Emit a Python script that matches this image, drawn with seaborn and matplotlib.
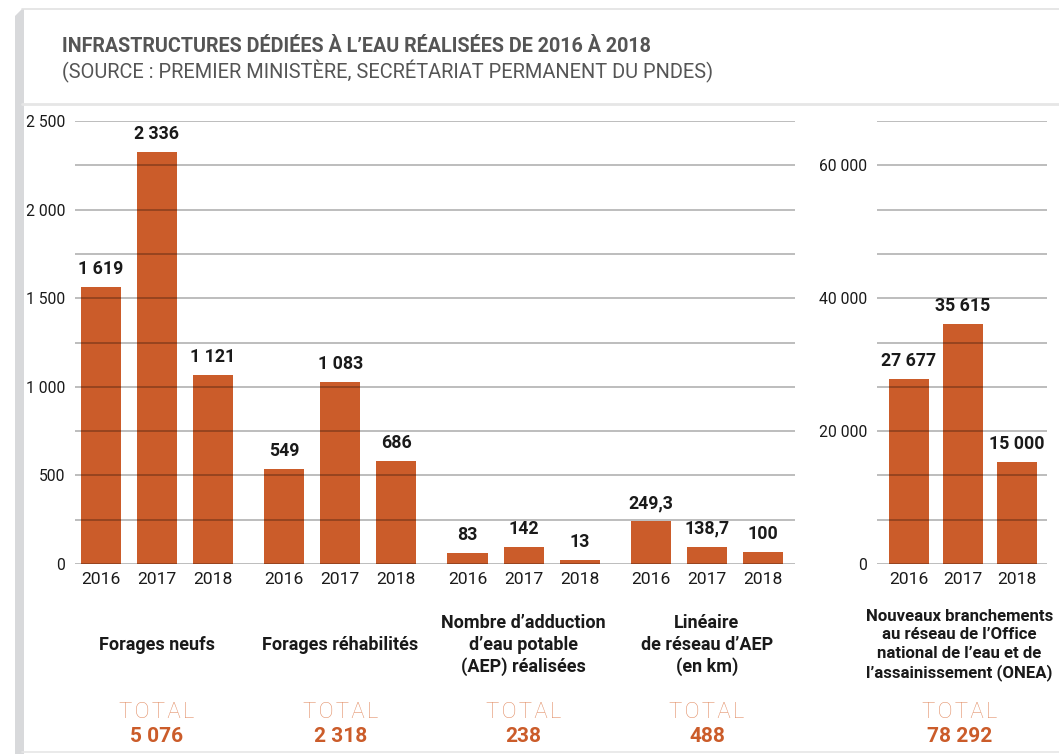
import numpy as np
import pandas as pd
import seaborn as sns
import matplotlib.pyplot as plt
from matplotlib.patches import Polygon
from matplotlib.lines import Line2D
from matplotlib.ticker import FixedLocator
import matplotlib.transforms as mtransforms

# =====================================================================
# 1. DONNÉES
# =====================================================================
annees = ['2016', '2017', '2018']

groupes = [
    'Forages neufs',
    'Forages réhabilités',
    'Nombre d’adduction\nd’eau potable\n(AEP) réalisées',
    'Linéaire\nde réseau d’AEP\n(en km)',
]

# valeurs affichées au-dessus des barres
etiquettes_forages_neufs = ['1 619', '2 336', '1 121']
etiquettes_forages_rehab = ['549', '1 083', '686']
etiquettes_aep = ['83', '142', '13']
etiquettes_lineaire = ['249,3', '138,7', '100']

# hauteurs des barres telles que dessinées dans la figure
hauteurs_forages_neufs = [1563, 2323, 1067]
hauteurs_forages_rehab = [536, 1029, 580]
hauteurs_aep = [64, 98, 23]
hauteurs_lineaire = [241, 98, 70]

totaux = ['5 076', '2 318', '238', '488']

groupe_onea = 'Nouveaux branchements\nau réseau de l’Office\nnational de l’eau et de\nl’assainissement (ONEA)'
etiquettes_onea = ['27 677', '35 615', '15 000']
hauteurs_onea = [27840, 36120, 15400]
total_onea = '78 292'

titre = 'INFRASTRUCTURES DÉDIÉES À L’EAU RÉALISÉES DE 2016 À 2018'
sous_titre = '(SOURCE : PREMIER MINISTÈRE, SECRÉTARIAT PERMANENT DU PNDES)'
mot_total = '\u200a'.join('TOTAL')  # lettres espacées

# =====================================================================
# 2. STYLE
# =====================================================================
sns.set_theme(style="white")
plt.rcParams['font.family'] = ['Roboto', 'DejaVu Sans']

orange = '#CB5C2A'
orange_clair = '#E3916A'
texte = '#1A1A1A'
gris_titre = '#555555'

W, H = 1059, 754
fig = plt.figure(figsize=(W / 100, H / 100), dpi=100)
fig.patch.set_facecolor('white')


def px_rect(x0, y0, x1, y1):
    # rectangle en pixels (origine en haut à gauche) -> fraction de figure
    return [x0 / W, 1 - y1 / H, (x1 - x0) / W, (y1 - y0) / H]


ax = fig.add_axes(px_rect(75, 121, 795, 564))
ax2 = fig.add_axes(px_rect(877, 121, 1047, 564))

# =====================================================================
# 3. BARRES
# =====================================================================
hauteurs = [hauteurs_forages_neufs, hauteurs_forages_rehab, hauteurs_aep, hauteurs_lineaire]
etiquettes = [etiquettes_forages_neufs, etiquettes_forages_rehab, etiquettes_aep, etiquettes_lineaire]

df = pd.DataFrame({
    'groupe': [g for g in groupes for _ in annees],
    'annee': annees * len(groupes),
    'hauteur': [v for h in hauteurs for v in h],
})
sns.barplot(data=df, x='groupe', y='hauteur', hue='annee', hue_order=annees,
            palette=[orange] * 3, saturation=1, width=0.918, gap=0.285,
            legend=False, ax=ax, linewidth=0)

df2 = pd.DataFrame({
    'groupe': [groupe_onea] * 3,
    'annee': annees,
    'hauteur': hauteurs_onea,
})
sns.barplot(data=df2, x='groupe', y='hauteur', hue='annee', hue_order=annees,
            palette=[orange] * 3, saturation=1, width=0.9, gap=0.25,
            legend=False, ax=ax2, linewidth=0)


def habiller(axe, labels, ymax, pas_label, pas_grille, xlim):
    axe.set_ylim(0, ymax)
    axe.set_xlim(*xlim)
    axe.yaxis.set_major_locator(FixedLocator(np.arange(0, ymax + 1, pas_label)))
    axe.yaxis.set_minor_locator(FixedLocator(np.arange(0, ymax + 1, pas_grille)))
    axe.set_yticklabels([f"{int(v):,}".replace(',', ' ') for v in axe.get_yticks()])
    axe.grid(True, axis='y', which='both', color='black', alpha=0.33, linewidth=1.1)
    axe.set_axisbelow(False)
    for s in axe.spines.values():
        s.set_visible(False)
    axe.tick_params(axis='y', which='both', length=0, pad=7, labelsize=11.3, labelcolor=texte)
    axe.set_xlabel('')
    axe.set_ylabel('')

    # barres : valeur au-dessus, année en dessous
    centres, ans = [], []
    for j, (conteneur, an) in enumerate(zip(axe.containers, annees)):
        for i, barre in enumerate(conteneur):
            cx = barre.get_x() + barre.get_width() / 2
            centres.append(cx)
            ans.append(an)
            axe.annotate(labels[i][j], (cx, barre.get_height()), xytext=(0, 9),
                         textcoords='offset pixels', ha='center', va='bottom',
                         fontsize=12.8, fontweight='bold', color=texte)
    axe.set_xticks(centres)
    axe.set_xticklabels(ans)
    axe.tick_params(axis='x', length=0, pad=6, labelsize=12.6, labelcolor=texte)


habiller(ax, etiquettes, 2500, 500, 250, (-0.447, 3.48))
habiller(ax2, [etiquettes_onea], 66667, 20000, 20000 / 3, (-0.478, 0.467))


def pied(axe, x, libelle, total, taille=13):
    tr = mtransforms.blended_transform_factory(axe.transData, fig.transFigure)
    axe.text(x, 1 - 645 / H, libelle, transform=tr, ha='center', va='center',
             fontsize=taille, fontweight='bold', color=texte, linespacing=1.28)
    axe.text(x, 1 - 712 / H, mot_total, transform=tr, ha='center', va='center',
             fontsize=16, fontweight='light', color=orange_clair)
    axe.text(x, 1 - 737 / H, total, transform=tr, ha='center', va='center',
             fontsize=15, fontweight='bold', color=orange)


for i, (g, t) in enumerate(zip(groupes, totaux)):
    pied(ax, i, g, t)
pied(ax2, -0.02, groupe_onea, total_onea, taille=12.1)

# =====================================================================
# 4. TITRE ET CADRE
# =====================================================================
fig.text(62 / W, 1 - 46 / H, titre, ha='left', va='center', fontsize=14.2,
         fontweight='bold', color=gris_titre)
fig.text(62 / W, 1 - 71 / H, sous_titre, ha='left', va='center', fontsize=14.4,
         color=gris_titre)

bande = Polygon([(15 / W, 0), (15 / W, 1 - 16 / H), (22 / W, 1 - 9 / H),
                 (24 / W, 1 - 9 / H), (24 / W, 0)], closed=True,
                transform=fig.transFigure, facecolor='#D8D9DB', edgecolor='none')
fig.add_artist(bande)
for y, c, lw in [(9, '#E2E2E2', 1.2), (104, '#E6E6E6', 2.0), (752, '#E6E6E6', 1.2)]:
    fig.add_artist(Line2D([22 / W, 1], [1 - y / H, 1 - y / H], transform=fig.transFigure,
                          color=c, linewidth=lw))

plt.savefig('out.png', dpi=100)
plt.close()
